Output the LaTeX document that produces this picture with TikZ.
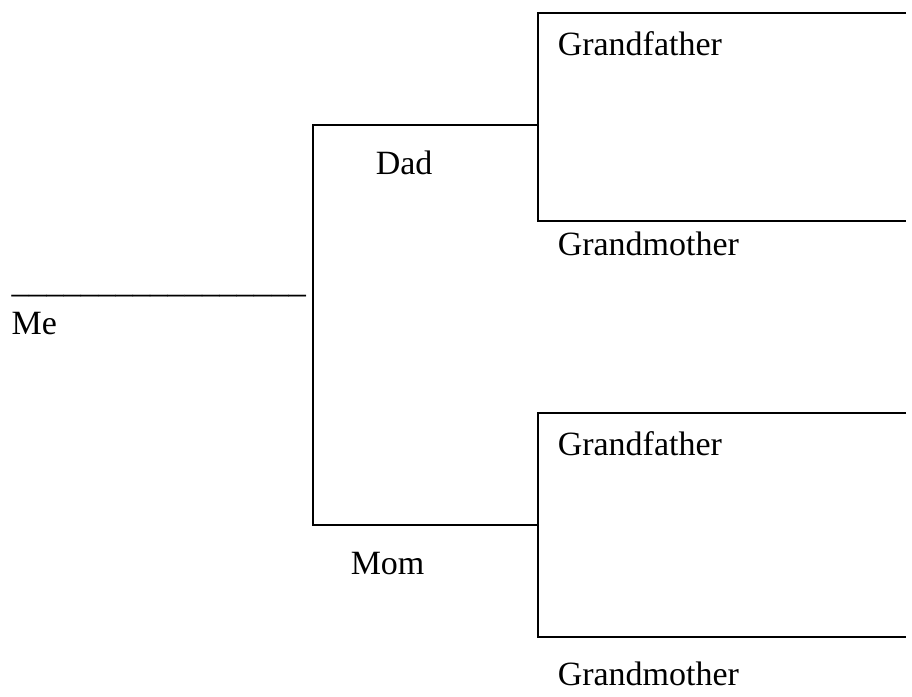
\documentclass[tikz,border=0pt]{standalone}
\usepackage{fontspec}
\setmainfont{Liberation Serif}
\begin{document}
\begin{tikzpicture}[x=1pt,y=-1pt,line width=1.5pt,
  lbl/.style={anchor=base west,inner sep=0pt,font=\fontsize{34}{40}\selectfont}]
\useasboundingbox (0,0) rectangle (912,696);
% texts
\node[lbl,font=\fontsize{34.6}{40}\selectfont] (blank) at (11,292) {\_\_\_\_\_\_\_\_\_\_\_\_\_\_\_\_\_};
\node[lbl] (me) at (11,334) {Me};
\node[lbl] (dad) at (375,174) {Dad};
\node[lbl] (mom) at (350,574) {Mom};
\node[lbl] (gf1) at (557,55) {Grandfather};
\node[lbl] (gm1) at (557,255) {Grandmother};
\node[lbl] (gf2) at (557,455) {Grandfather};
\node[lbl] (gm2) at (557,685) {Grandmother};
% joints
\coordinate (dadL) at (313,125);
\coordinate (momL) at (313,525);
\coordinate (dadR) at (538,125);
\coordinate (momR) at (538,525);
\coordinate (gf1L) at (538,13);
\coordinate (gf1R) at (906,13);
\coordinate (gm1L) at (538,221);
\coordinate (gm1R) at (906,221);
\coordinate (gf2L) at (538,413);
\coordinate (gf2R) at (906,413);
\coordinate (gm2L) at (538,637);
\coordinate (gm2R) at (906,637);
% connectors
\draw (dadR) -- (dadL) -- (momL) -- (momR);
\draw (gf1R) -- (gf1L) -- (gm1L) -- (gm1R);
\draw (gf2R) -- (gf2L) -- (gm2L) -- (gm2R);
\end{tikzpicture}
\end{document}
